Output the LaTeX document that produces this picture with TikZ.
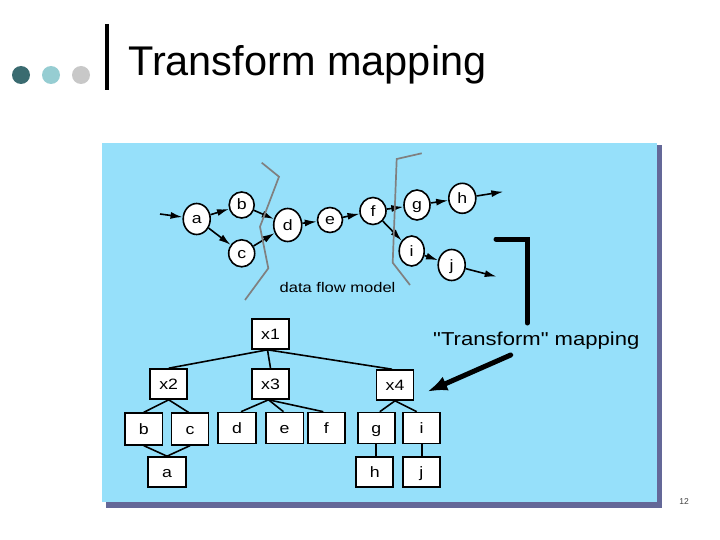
\documentclass[tikz,border=0pt]{standalone}
\usepackage{fontspec}
\setmainfont{Liberation Sans}
\newfontfamily\diafont[FakeStretch=1.18]{Liberation Sans}
\usetikzlibrary{arrows.meta,shapes.geometric}
\definecolor{panelblue}{RGB}{150,224,250}
\definecolor{panelshadow}{RGB}{100,104,152}
\definecolor{dotA}{RGB}{58,107,112}
\definecolor{dotB}{RGB}{150,205,210}
\definecolor{dotC}{RGB}{200,200,200}
\definecolor{partgray}{RGB}{128,128,128}
\tikzset{
  flow/.style={ellipse, draw, fill=white, line width=1.6pt, inner sep=0pt,
    text height=11pt, text depth=1pt,
    minimum width=26pt, minimum height=29pt, font=\diafont\fontsize{15}{16}\selectfont},
  tbox/.style={rectangle, draw, fill=white, line width=1.6pt, inner sep=0pt,
    text height=11pt, text depth=1pt,
    minimum width=37pt, minimum height=30pt, font=\diafont\fontsize{15}{16}\selectfont},
  arr/.style={line width=1.6pt, -{Latex[length=12pt,width=7pt]}},
  tedge/.style={line width=1.6pt},
  part/.style={draw=partgray, line width=1.7pt, line join=miter},
}
\begin{document}
\begin{tikzpicture}[x=1pt,y=-1pt]
\useasboundingbox (0,0) rectangle (720,540);
\fill[white] (0,0) rectangle (720,540);
% title area
\fill[dotA] (21,75) circle (9pt);
\fill[dotB] (51,75) circle (9pt);
\fill[dotC] (81,75) circle (9pt);
\draw[line width=3.5pt] (107,24) -- (107,90);
\node[anchor=base west, inner sep=0pt, font=\fontsize{41.5}{46}\selectfont] (title) at (128,76) {Transform mapping};
% panel
\fill[panelshadow] (106,145) rectangle (662,508);
\fill[panelblue] (102,143) rectangle (657,502);
% data flow model
\node[flow, minimum width=27pt, minimum height=31pt] (a) at (196.7,219) {a};
\node[flow, minimum width=25pt, minimum height=26pt] (b) at (241.7,205) {b};
\node[flow, minimum width=26pt, minimum height=27pt] (c) at (241.7,253.3) {c};
\node[flow, minimum width=28pt, minimum height=33pt] (d) at (287.7,225) {d};
\node[flow, minimum width=25pt, minimum height=25pt] (e) at (330,220) {e};
\node[flow, minimum width=26pt, minimum height=27pt] (f) at (373,211) {f};
\node[flow, minimum width=26pt, minimum height=30pt] (g) at (417,205) {g};
\node[flow, minimum width=27pt, minimum height=30pt] (h) at (462.3,198.3) {h};
\node[flow, minimum width=25pt, minimum height=30pt] (i) at (411.7,251) {i};
\node[flow, minimum width=27pt, minimum height=31pt] (j) at (451.7,265) {j};
\coordinate (ain) at (160,214);
\coordinate (hout) at (503.3,191.7);
\coordinate (jout) at (496.7,276.7);
\draw[arr] (ain) -- (a);
\draw[arr] (a) -- (b);
\draw[arr] (a) -- (c);
\draw[arr] (b) -- (d);
\draw[arr] (c) -- (d);
\draw[arr] (d) -- (e);
\draw[arr] (e) -- (f);
\draw[arr] (f) -- (g);
\draw[arr] (f) -- (i);
\draw[arr] (g) -- (h);
\draw[arr] (i) -- (j);
\draw[arr] (h) -- (hout);
\draw[arr] (j) -- (jout);
% partition lines
\draw[part] (261.7,162.7) -- (279,176.7) -- (260,226.7) -- (268.3,268.3) -- (245,300);
\draw[part] (421.7,153.3) -- (396.7,159) -- (392.7,262.7) -- (410,285);
\node[anchor=base west, inner sep=0pt, font=\diafont\fontsize{14}{16}\selectfont] (dfm) at (279.5,292) {data flow model};
% transform bracket and arrow
\draw[line width=5pt, line cap=round, line join=miter] (496,239) -- (527.3,239) -- (527.3,323);
\node[anchor=base west, inner sep=0pt, font=\diafont\fontsize{18.7}{22}\selectfont] (tm) at (433,345) {"Transform" mapping};
\coordinate (tmA) at (510.7,355);
\coordinate (tmB) at (427.3,391.7);
\draw[line width=5pt, line cap=round, -{Latex[length=20pt,width=15pt]}] (tmA) -- (tmB);
% tree
\node[tbox] (x1) at (270.5,334) {x1};
\node[tbox] (x2) at (168.7,384) {x2};
\node[tbox] (x3) at (270.5,384) {x3};
\node[tbox] (x4) at (395,385) {x4};
\node[tbox, minimum width=37.7pt, minimum height=31.7pt] (tb) at (143.8,429) {b};
\node[tbox, minimum height=31.7pt] (tc) at (190,429) {c};
\node[tbox, minimum width=37.7pt, minimum height=31pt] (td) at (237,428) {d};
\node[tbox, minimum width=37.6pt, minimum height=31pt] (te) at (284.5,428) {e};
\node[tbox, minimum height=31pt] (tf) at (326.3,428) {f};
\node[tbox, minimum height=31pt] (tg) at (376.3,428) {g};
\node[tbox, minimum height=31pt] (ti) at (421.7,428) {i};
\node[tbox, minimum width=37.7pt] (ta) at (167,472) {a};
\node[tbox] (th) at (374.7,472) {h};
\node[tbox] (tj) at (421.3,472) {j};
\draw[tedge] ([xshift=-3pt]x1.south) -- (x2.north);
\draw[tedge] ([xshift=-3pt]x1.south) -- (x3.north);
\draw[tedge] ([xshift=-3pt]x1.south) -- ([xshift=-3pt]x4.north);
\draw[tedge] (x2.south) -- (tb.north);
\draw[tedge] (x2.south) -- ([xshift=-1.5pt]tc.north);
\draw[tedge] (tb.south) -- (ta.north);
\draw[tedge] (tc.south) -- (ta.north);
\draw[tedge] ([xshift=-2pt]x3.south) -- ([xshift=4pt]td.north);
\draw[tedge] ([xshift=-2pt]x3.south) -- ([xshift=-1pt]te.north);
\draw[tedge] ([xshift=-2pt]x3.south) -- ([xshift=-3pt]tf.north);
\draw[tedge] (x4.south) -- ([xshift=3.5pt]tg.north);
\draw[tedge] (x4.south) -- ([xshift=-5pt]ti.north);
\draw[tedge] ([xshift=-0.6pt]tg.south) -- ([xshift=-0.6pt]tg.south |- th.north);
\draw[tedge] (ti.south) -- (ti.south |- tj.north);
% page number
\node[inner sep=0pt, font=\fontsize{8.5}{10}\selectfont, text=black!75] (pnum) at (684,502) {12};
\end{tikzpicture}
\end{document}
